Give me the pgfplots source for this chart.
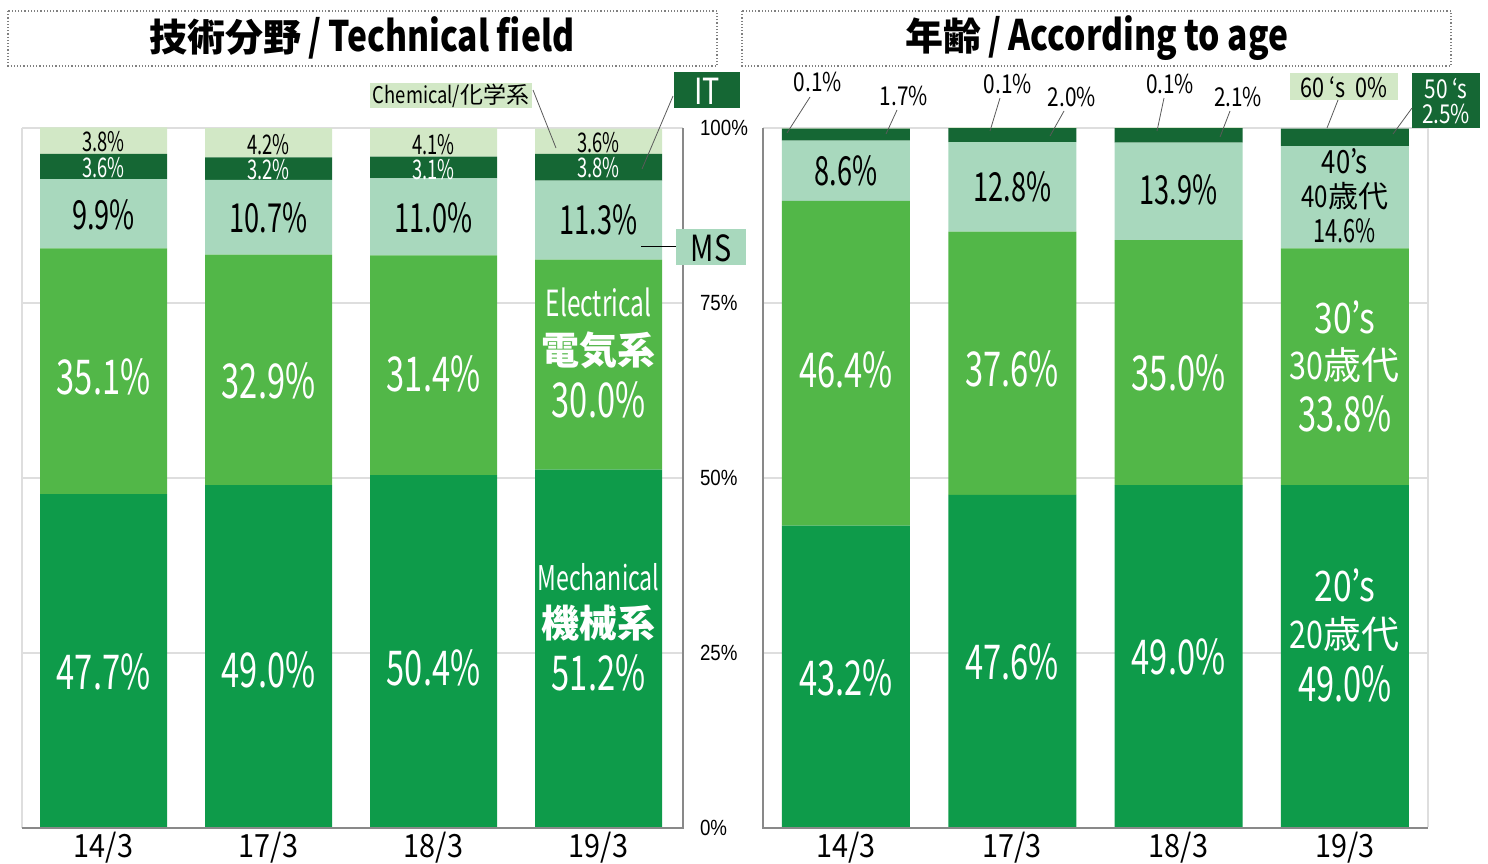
\documentclass[border=0pt]{standalone}
\usepackage{pgfplots}
\pgfplotsset{compat=1.18}
\usepackage{fontspec}
\setmainfont{Noto Sans CJK JP}[FakeStretch=0.8]
\newfontfamily\jp{Noto Sans CJK JP}
\newfontfamily\nar{Noto Sans CJK JP}[FakeStretch=0.68]
\newfontfamily\wide{Noto Sans CJK JP}[FakeStretch=0.9]
\newfontfamily\tickfont{Liberation Sans}[FakeStretch=0.85]

\definecolor{cMech}{RGB}{14,155,74}
\definecolor{cElec}{RGB}{82,183,72}
\definecolor{cMS}{RGB}{168,216,189}
\definecolor{cIT}{RGB}{21,103,52}
\definecolor{cChem}{RGB}{210,232,198}
\definecolor{axgray}{RGB}{137,137,137}
\definecolor{gridgray}{RGB}{222,222,222}
\definecolor{leader}{RGB}{90,90,90}

\newcommand{\fs}[1]{\fontsize{#1}{#1}\selectfont}

\pgfplotsset{
  stackpanel/.style={
    scale only axis, ybar stacked, height=350pt,
    ymin=0, ymax=100, ytick={0,25,50,75,100},
    xtick={0,1,2,3}, xticklabels={14/3,17/3,18/3,19/3},
    xticklabel style={font=\wide\fs{16}, yshift=1.5pt},
    major tick length=0pt,
    ymajorgrids, grid style={gridgray, line width=0.8pt},
    axis line style={draw=none},
  },
}
\tikzset{
  lbig/.style={font=\nar\fs{24}},
  lmid/.style={font=\nar\fs{20}},
  lsmall/.style={font=\nar\fs{13.5}},
}

\begin{document}
\begin{tikzpicture}
\useasboundingbox (0pt,0pt) rectangle (744pt,-431.5pt);

% ---- technical field ----
\begin{axis}[stackpanel, at={(11pt,-414pt)}, anchor=south west,
    width=330.5pt, xmin=-0.494, xmax=3.512, bar width=63.5pt,
    yticklabel pos=right,
    /pgf/number format/assume math mode=true,
    yticklabel style={font=\tickfont\fs{11}, anchor=west, xshift=5pt},
    yticklabel={\pgfmathprintnumber{\tick}\%},
    clip=false]
\addplot[fill=cMech, draw=none] coordinates {(0,47.7) (1,49.0) (2,50.4) (3,51.2)};
\addplot[fill=cElec, draw=none] coordinates {(0,35.1) (1,32.9) (2,31.4) (3,30.0)};
\addplot[fill=cMS,   draw=none] coordinates {(0,9.9) (1,10.7) (2,11.0) (3,11.3)};
\addplot[fill=cIT,   draw=none] coordinates {(0,3.6) (1,3.2) (2,3.1) (3,3.8)};
\addplot[fill=cChem, draw=none] coordinates {(0,3.8) (1,4.2) (2,4.1) (3,3.6)};
% label anchors (segment centres)
\coordinate (Lm0) at (axis cs:0,22.3);
\coordinate (Lm1) at (axis cs:1,22.6);
\coordinate (Lm2) at (axis cs:2,22.9);
\coordinate (Lm3a) at (axis cs:3,35.9);
\coordinate (Lm3b) at (axis cs:3,29.3);
\coordinate (Lm3c) at (axis cs:3,22.1);
\coordinate (Le0) at (axis cs:0,64.4);
\coordinate (Le1) at (axis cs:1,63.9);
\coordinate (Le2) at (axis cs:2,64.9);
\coordinate (Le3a) at (axis cs:3,75.1);
\coordinate (Le3b) at (axis cs:3,68.3);
\coordinate (Le3c) at (axis cs:3,61.1);
\coordinate (Ls0) at (axis cs:0,87.6);
\coordinate (Ls1) at (axis cs:1,87.1);
\coordinate (Ls2) at (axis cs:2,87.1);
\coordinate (Ls3) at (axis cs:3,86.9);
\coordinate (Li0) at (axis cs:0,94.3);
\coordinate (Li1) at (axis cs:1,94.0);
\coordinate (Li2) at (axis cs:2,94.0);
\coordinate (Li3) at (axis cs:3,94.3);
\coordinate (Lc0) at (axis cs:0,98.0);
\coordinate (Lc1) at (axis cs:1,97.6);
\coordinate (Lc2) at (axis cs:2,97.6);
\coordinate (Lc3) at (axis cs:3,97.9);
\end{axis}

% ---- age ----
\begin{axis}[stackpanel, at={(381.5pt,-414pt)}, anchor=south west,
    width=332.5pt, xmin=-0.499, xmax=3.5, bar width=64pt,
    yticklabels={}, clip=false]
\addplot[fill=cMech, draw=none] coordinates {(0,43.2) (1,47.6) (2,49.0) (3,49.0)};
\addplot[fill=cElec, draw=none] coordinates {(0,46.4) (1,37.6) (2,35.0) (3,33.8)};
\addplot[fill=cMS,   draw=none] coordinates {(0,8.6) (1,12.8) (2,13.9) (3,14.6)};
\addplot[fill=cIT,   draw=none] coordinates {(0,1.7) (1,2.0) (2,2.1) (3,2.5)};
\addplot[fill=cChem, draw=none] coordinates {(0,0.1) (1,0.1) (2,0.1) (3,0)};
\coordinate (Rm0) at (axis cs:0,21.4);
\coordinate (Rm1) at (axis cs:1,23.7);
\coordinate (Rm2) at (axis cs:2,24.4);
\coordinate (Rm3a) at (axis cs:3,34.6);
\coordinate (Rm3b) at (axis cs:3,27.7);
\coordinate (Rm3c) at (axis cs:3,20.6);
\coordinate (Re0) at (axis cs:0,65.4);
\coordinate (Re1) at (axis cs:1,65.6);
\coordinate (Re2) at (axis cs:2,65.0);
\coordinate (Re3a) at (axis cs:3,73.0);
\coordinate (Re3b) at (axis cs:3,66.1);
\coordinate (Re3c) at (axis cs:3,59.1);
\coordinate (Rs0) at (axis cs:0,93.9);
\coordinate (Rs1) at (axis cs:1,91.6);
\coordinate (Rs2) at (axis cs:2,91.1);
\coordinate (Rs3a) at (axis cs:3,95.3);
\coordinate (Rs3b) at (axis cs:3,90.3);
\coordinate (Rs3c) at (axis cs:3,85.3);
\end{axis}

% ---- segment labels ----
\node[lbig, white] at (Lm0) {47.7\%};
\node[lbig, white] at (Lm1) {49.0\%};
\node[lbig, white] at (Lm2) {50.4\%};
\node[white, font=\nar\fs{17}] at (Lm3a) {Mechanical};
\node[white, font=\jp\bfseries\fs{19}] at (Lm3b) {機械系};
\node[lbig, white] at (Lm3c) {51.2\%};
\node[lbig, white] at (Le0) {35.1\%};
\node[lbig, white] at (Le1) {32.9\%};
\node[lbig, white] at (Le2) {31.4\%};
\node[white, font=\nar\fs{18}] at (Le3a) {Electrical};
\node[white, font=\jp\bfseries\fs{19}] at (Le3b) {電気系};
\node[lbig, white] at (Le3c) {30.0\%};
\node[lmid] at (Ls0) {9.9\%};
\node[lmid] at (Ls1) {10.7\%};
\node[lmid] at (Ls2) {11.0\%};
\node[lmid] at (Ls3) {11.3\%};
\node[lsmall, white] at (Li0) {3.6\%};
\node[lsmall, white] at (Li1) {3.2\%};
\node[lsmall, white] at (Li2) {3.1\%};
\node[lsmall, white] at (Li3) {3.8\%};
\node[lsmall] at (Lc0) {3.8\%};
\node[lsmall] at (Lc1) {4.2\%};
\node[lsmall] at (Lc2) {4.1\%};
\node[lsmall] at (Lc3) {3.6\%};

\node[lbig, white] at (Rm0) {43.2\%};
\node[lbig, white] at (Rm1) {47.6\%};
\node[lbig, white] at (Rm2) {49.0\%};
\node[white, font=\fs{21}] at (Rm3a) {20’s};
\node[white, font=\fs{19}] at (Rm3b) {20{\jp 歳代}};
\node[lbig, white] at (Rm3c) {49.0\%};
\node[lbig, white] at (Re0) {46.4\%};
\node[lbig, white] at (Re1) {37.6\%};
\node[lbig, white] at (Re2) {35.0\%};
\node[white, font=\fs{21}] at (Re3a) {30’s};
\node[white, font=\fs{19}] at (Re3b) {30{\jp 歳代}};
\node[lbig, white] at (Re3c) {33.8\%};
\node[lmid] at (Rs0) {8.6\%};
\node[lmid] at (Rs1) {12.8\%};
\node[lmid] at (Rs2) {13.9\%};
\node[font=\fs{16}] at (Rs3a) {40’s};
\node[font=\fs{15}] at (Rs3b) {40{\jp 歳代}};
\node[font=\nar\fs{16}] at (Rs3c) {14.6\%};

% ---- frames, titles, callouts (pixel grid of the reference) ----
\begin{scope}[x=0.5pt, y=-0.5pt]
\draw[gridgray, line width=1pt] (22,128) -- (22,828);
\draw[axgray, line width=1pt] (22,828) -- (683,828) -- (683,128);
\draw[axgray, line width=1pt] (763,128) -- (763,828) -- (1428,828);
\draw[gridgray, line width=1pt] (1428,128) -- (1428,827);

\draw[gray, densely dotted, line width=0.6pt] (8,11) rectangle (717,66);
\draw[gray, densely dotted, line width=0.6pt] (742,11) rectangle (1451,66);
\node at (362,38) {\bfseries\fs{21}{\jp\bfseries\fs{19}技術分野}\,/\,Technical field};
\node at (1097,38) {\bfseries\fs{21}{\jp\bfseries\fs{19}年齢}\,/\,According to age};

% technical field callouts
\fill[cChem] (370,83) rectangle (532,108);
\node at (451,96) {\fs{11.5}Chemical/{\jp 化学系}};
\draw[leader, line width=0.4pt] (533,90) -- (556,148);
\fill[cIT] (674,72) rectangle (740,108);
\node[white] at (707,91) {\fs{18}IT};
\draw[leader, line width=0.4pt] (673,96) -- (642,169);
\fill[cMS] (676,229) rectangle (746,265);
\node at (711,248) {\fs{18}MS};
\draw[black, line width=0.5pt] (641,246) -- (676,246);

% age callouts
\node at (818,82) {\fs{13}0.1\%};
\draw[leader, line width=0.4pt] (810,97) -- (787,133);
\node at (904,96) {\fs{13}1.7\%};
\draw[leader, line width=0.4pt] (897,110) -- (886,134);
\node at (1008,84) {\fs{13}0.1\%};
\draw[leader, line width=0.4pt] (1000,98) -- (990,131);
\node at (1072,97) {\fs{13}2.0\%};
\draw[leader, line width=0.4pt] (1064,111) -- (1050,136);
\node at (1170,84) {\fs{13}0.1\%};
\draw[leader, line width=0.4pt] (1164,98) -- (1157,131);
\node at (1238,97) {\fs{13}2.1\%};
\draw[leader, line width=0.4pt] (1230,111) -- (1220,137);
\fill[cChem] (1290,73) rectangle (1398,100);
\node at (1344,87) {\fs{13.5}60 ‘s\ \ 0\%};
\draw[leader, line width=0.4pt] (1338,100) -- (1327,128);
\fill[cIT] (1412,73) rectangle (1480,128);
\node[white] at (1446,89) {\fs{13}50 ‘s};
\node[white] at (1446,114) {\fs{13}2.5\%};
\draw[leader, line width=0.4pt] (1412,108) -- (1393,134);
\end{scope}
\end{tikzpicture}
\end{document}
